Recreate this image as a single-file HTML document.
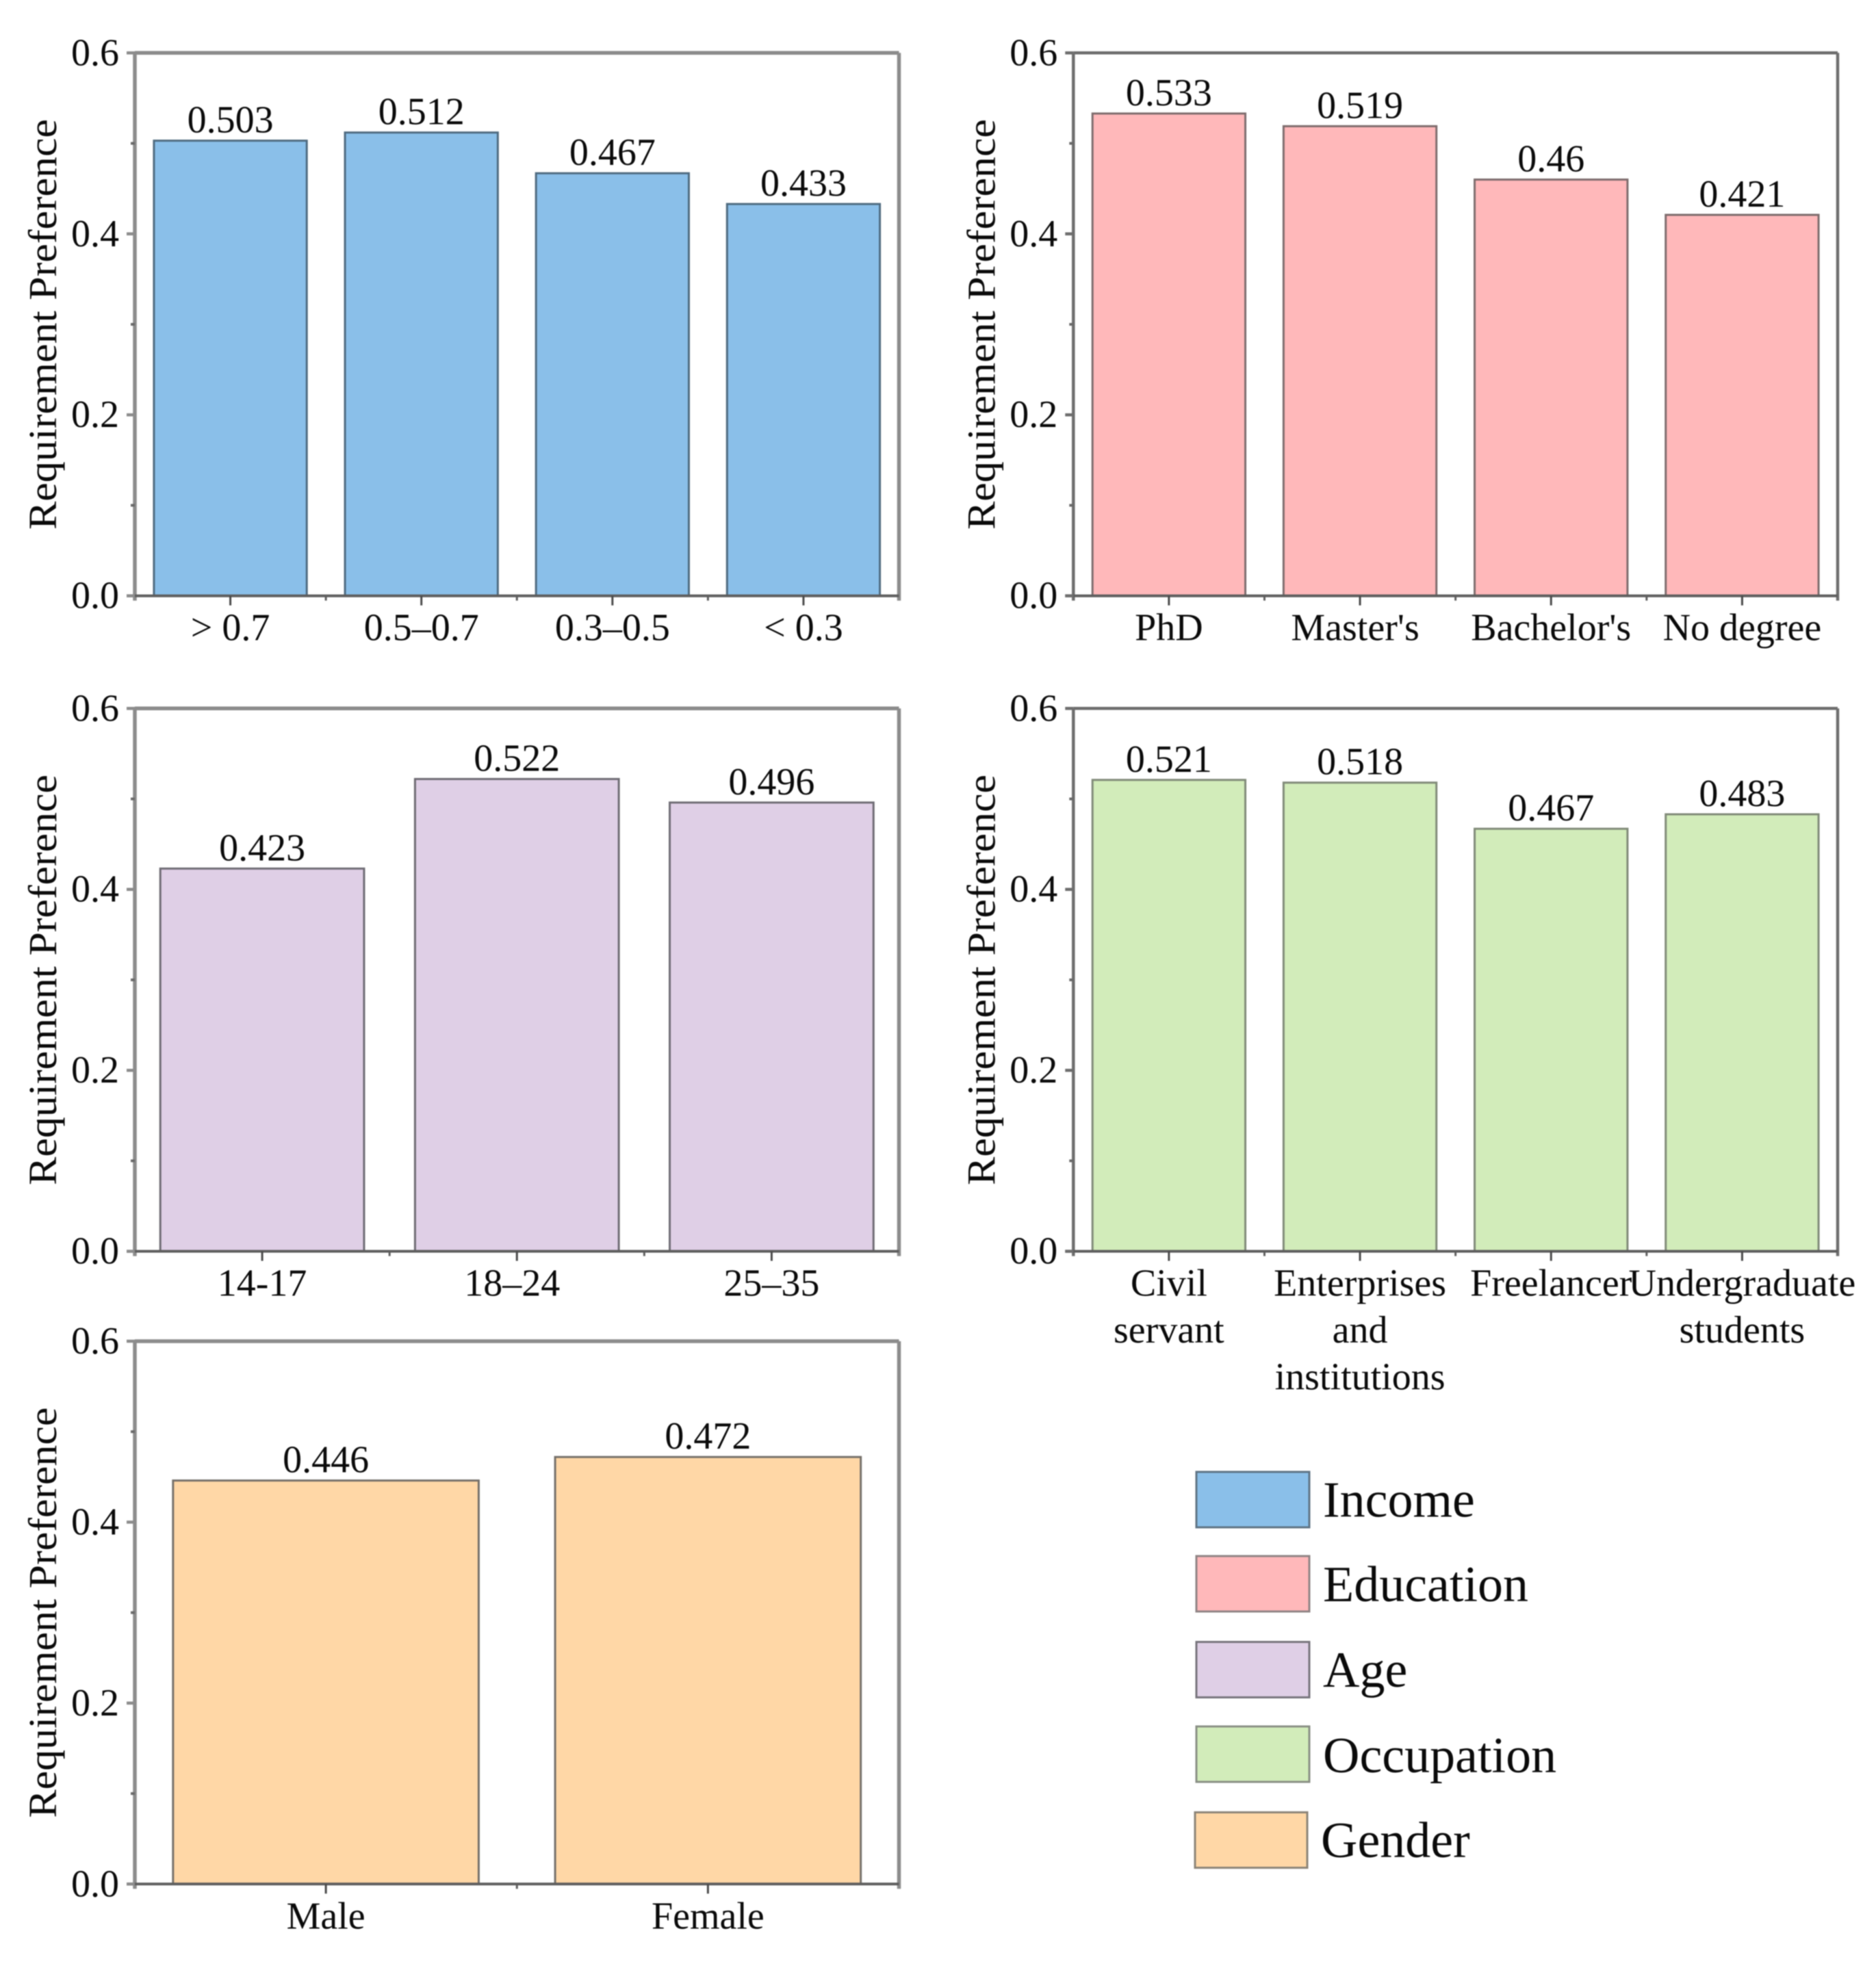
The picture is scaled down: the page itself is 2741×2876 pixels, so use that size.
<!DOCTYPE html>
<html lang="en">
<head>
<meta charset="utf-8">
<title>Requirement Preference by Demographic Group</title>
<style>
html,body{margin:0;padding:0;background:#fff;width:2741px;height:2876px;overflow:hidden}
svg{display:block;filter:blur(0.7px)}
text{font-family:"Liberation Serif",serif;fill:#0a0a0a}
</style>
</head>
<body>
<svg id="chart" xmlns="http://www.w3.org/2000/svg" width="2741" height="2876" viewBox="0 0 2741 2876">
  <rect x="0" y="0" width="2741" height="2876" fill="#ffffff"/>
  <g id="panels"></g>
  <g id="legend">
    <g>
      <rect x="1748" y="2151" width="165" height="81" fill="#8abfe9" stroke="#5f7485" stroke-width="3"/>
      <text x="1933" y="2216.5" font-size="74">Income</text>
    </g>
    <g>
      <rect x="1748" y="2274" width="165" height="81" fill="#ffb8ba" stroke="#8f8485" stroke-width="3"/>
      <text x="1933" y="2340" font-size="74">Education</text>
    </g>
    <g>
      <rect x="1748" y="2399.5" width="165" height="81" fill="#dfcfe6" stroke="#77747c" stroke-width="3"/>
      <text x="1933" y="2465" font-size="74">Age</text>
    </g>
    <g>
      <rect x="1748" y="2523" width="165" height="81" fill="#d2ecba" stroke="#8a8f85" stroke-width="3"/>
      <text x="1933" y="2590" font-size="74">Occupation</text>
    </g>
    <g>
      <rect x="1746" y="2648.5" width="164" height="81" fill="#ffd7a6" stroke="#8c8478" stroke-width="3"/>
      <text x="1930" y="2714" font-size="74">Gender</text>
    </g>
  </g>
</svg>
<script>
// ---- chart data ----
const incomeCategories = ['> 0.7', '0.5–0.7', '0.3–0.5', '< 0.3'];
const incomeValues = [0.503, 0.512, 0.467, 0.433];

const educationCategories = ['PhD', "Master's", "Bachelor's", 'No degree'];
const educationValues = [0.533, 0.519, 0.46, 0.421];

const ageCategories = ['14-17', '18–24', '25–35'];
const ageValues = [0.423, 0.522, 0.496];

const occupationCategories = ['Civil|servant', 'Enterprises|and|institutions', 'Freelancer', 'Undergraduate|students'];
const occupationValues = [0.521, 0.518, 0.467, 0.483];

const genderCategories = ['Male', 'Female'];
const genderValues = [0.446, 0.472];

const yTickValues = [0, 0.2, 0.4, 0.6];
const yTickLabels = ['0.0', '0.2', '0.4', '0.6'];
const yMinorValues = [0.1, 0.3, 0.5];
const yAxisMax = 0.6;
const yAxisTitle = 'Requirement Preference';

// ---- layout ----
const SVG_NS = 'http://www.w3.org/2000/svg';
const BAR_FRACTION = 0.8;
const FONT = 56;
const labelNudge = {'education-1': -7, 'age-1': -7};
const panels = [
  {key: 'income', cats: incomeCategories, vals: incomeValues, fill: '#8abfe9', edge: '#4f6b80', l: 197, r: 1313.5, t: 77.3, b: 870.7, axis: '#8c8c8c', aw: 5.5},
  {key: 'education', cats: educationCategories, vals: educationValues, fill: '#ffb8ba', edge: '#7d6c6d', l: 1568.3, r: 2685, t: 77.3, b: 870.7, axis: '#6e6e6e', aw: 4.5},
  {key: 'age', cats: ageCategories, vals: ageValues, fill: '#dfcfe6', edge: '#6f6c74', l: 197, r: 1313.5, t: 1035.3, b: 1828.6, axis: '#8c8c8c', aw: 5.5},
  {key: 'occupation', cats: occupationCategories, vals: occupationValues, fill: '#d2ecba', edge: '#808a78', l: 1568.3, r: 2685, t: 1035.3, b: 1828.6, axis: '#6e6e6e', aw: 4.5},
  {key: 'gender', cats: genderCategories, vals: genderValues, fill: '#ffd7a6', edge: '#75706a', l: 197, r: 1313.5, t: 1960, b: 2753.3, axis: '#8c8c8c', aw: 5.5}
];

function make(parent, tag, props, name, interactable) {
  const el = document.createElementNS(SVG_NS, tag);
  
  
  for (const k in props) { el.setAttribute(k, props[k]); }
  parent.appendChild(el);
  return el;
}

function drawPanel(p, root) {
  const g = make(root, 'g', {}, p.key + '-panel', 'false');
  const yScale = v => p.b - (v / yAxisMax) * (p.b - p.t);
  const band = (p.r - p.l) / p.cats.length;
  const xCenter = i => p.l + band * (i + 0.5);

  // bars
  p.vals.forEach((v, i) => {
    const w = band * BAR_FRACTION;
    const bar = make(g, 'rect', {
      x: xCenter(i) - w / 2, y: yScale(v), width: w, height: p.b - yScale(v),
      fill: p.fill, stroke: p.edge, 'stroke-width': 3
    }, p.key + '-bar-' + (i + 1), 'true');
    const label = make(g, 'text', {
      x: xCenter(i), y: yScale(v) - 12, 'font-size': FONT, 'text-anchor': 'middle'
    }, p.key + '-value-label-' + (i + 1), 'false');
    label.textContent = String(v);
  });

  // frame
  const stroke = {stroke: p.axis, 'stroke-width': p.aw, fill: 'none'};
  make(g, 'line', Object.assign({x1: p.l, x2: p.r, y1: p.t, y2: p.t}, stroke), p.key + '-top-border', 'false');
  make(g, 'line', Object.assign({x1: p.r, x2: p.r, y1: p.t, y2: p.b + 7}, stroke), p.key + '-right-border', 'false');
  make(g, 'line', Object.assign({x1: p.l, x2: p.l, y1: p.t, y2: p.b + 7}, stroke), p.key + '-y-axis', 'false');
  make(g, 'line', {x1: p.l - 12, x2: p.r, y1: p.b, y2: p.b, stroke: '#5e5e5e', 'stroke-width': 4}, p.key + '-x-axis', 'false');

  // y ticks
  yTickValues.forEach((v, i) => {
    make(g, 'line', {x1: p.l - 12, x2: p.l, y1: yScale(v), y2: yScale(v), stroke: p.axis, 'stroke-width': 4.5}, p.key + '-y-tick-' + yTickLabels[i], 'false');
    const t = make(g, 'text', {x: p.l - 23, y: yScale(v) + 18, 'font-size': FONT, 'text-anchor': 'end'}, p.key + '-y-tick-label-' + yTickLabels[i], 'false');
    t.textContent = yTickLabels[i];
  });
  yMinorValues.forEach(v => {
    make(g, 'line', {x1: p.l - 6, x2: p.l, y1: yScale(v), y2: yScale(v), stroke: '#6a6a6a', 'stroke-width': 4}, p.key + '-y-minor-tick', 'false');
  });

  // x ticks and labels
  p.cats.forEach((c, i) => {
    make(g, 'line', {x1: xCenter(i), x2: xCenter(i), y1: p.b, y2: p.b + 14, stroke: '#4a4a4a', 'stroke-width': 3}, p.key + '-x-tick-' + (i + 1), 'false');
    if (i > 0) {
      const mx = p.l + band * i;
      make(g, 'line', {x1: mx, x2: mx, y1: p.b, y2: p.b + 7, stroke: '#5e5e5e', 'stroke-width': 3}, p.key + '-x-minor-tick', 'false');
    }
    const nudge = labelNudge[p.key + '-' + i] || 0;
    c.split('|').forEach((line, j) => {
      const t = make(g, 'text', {x: xCenter(i) + nudge, y: p.b + 65 + j * 68.5, 'font-size': FONT, 'text-anchor': 'middle'}, p.key + '-category-label-' + (i + 1), 'false');
      t.textContent = line;
    });
  });

  // y axis title
  const cy = (p.t + p.b) / 2;
  const bx = p.l - 115;
  const title = make(g, 'text', {
    x: bx, y: cy, 'font-size': 58, 'text-anchor': 'middle',
    transform: 'rotate(-90 ' + bx + ' ' + cy + ')',
    textLength: 600, lengthAdjust: 'spacingAndGlyphs'
  }, p.key + '-y-axis-title', 'false');
  title.textContent = yAxisTitle;
}

const panelRoot = document.getElementById('panels');
panels.forEach(p => drawPanel(p, panelRoot));
</script>
</body>
</html>
